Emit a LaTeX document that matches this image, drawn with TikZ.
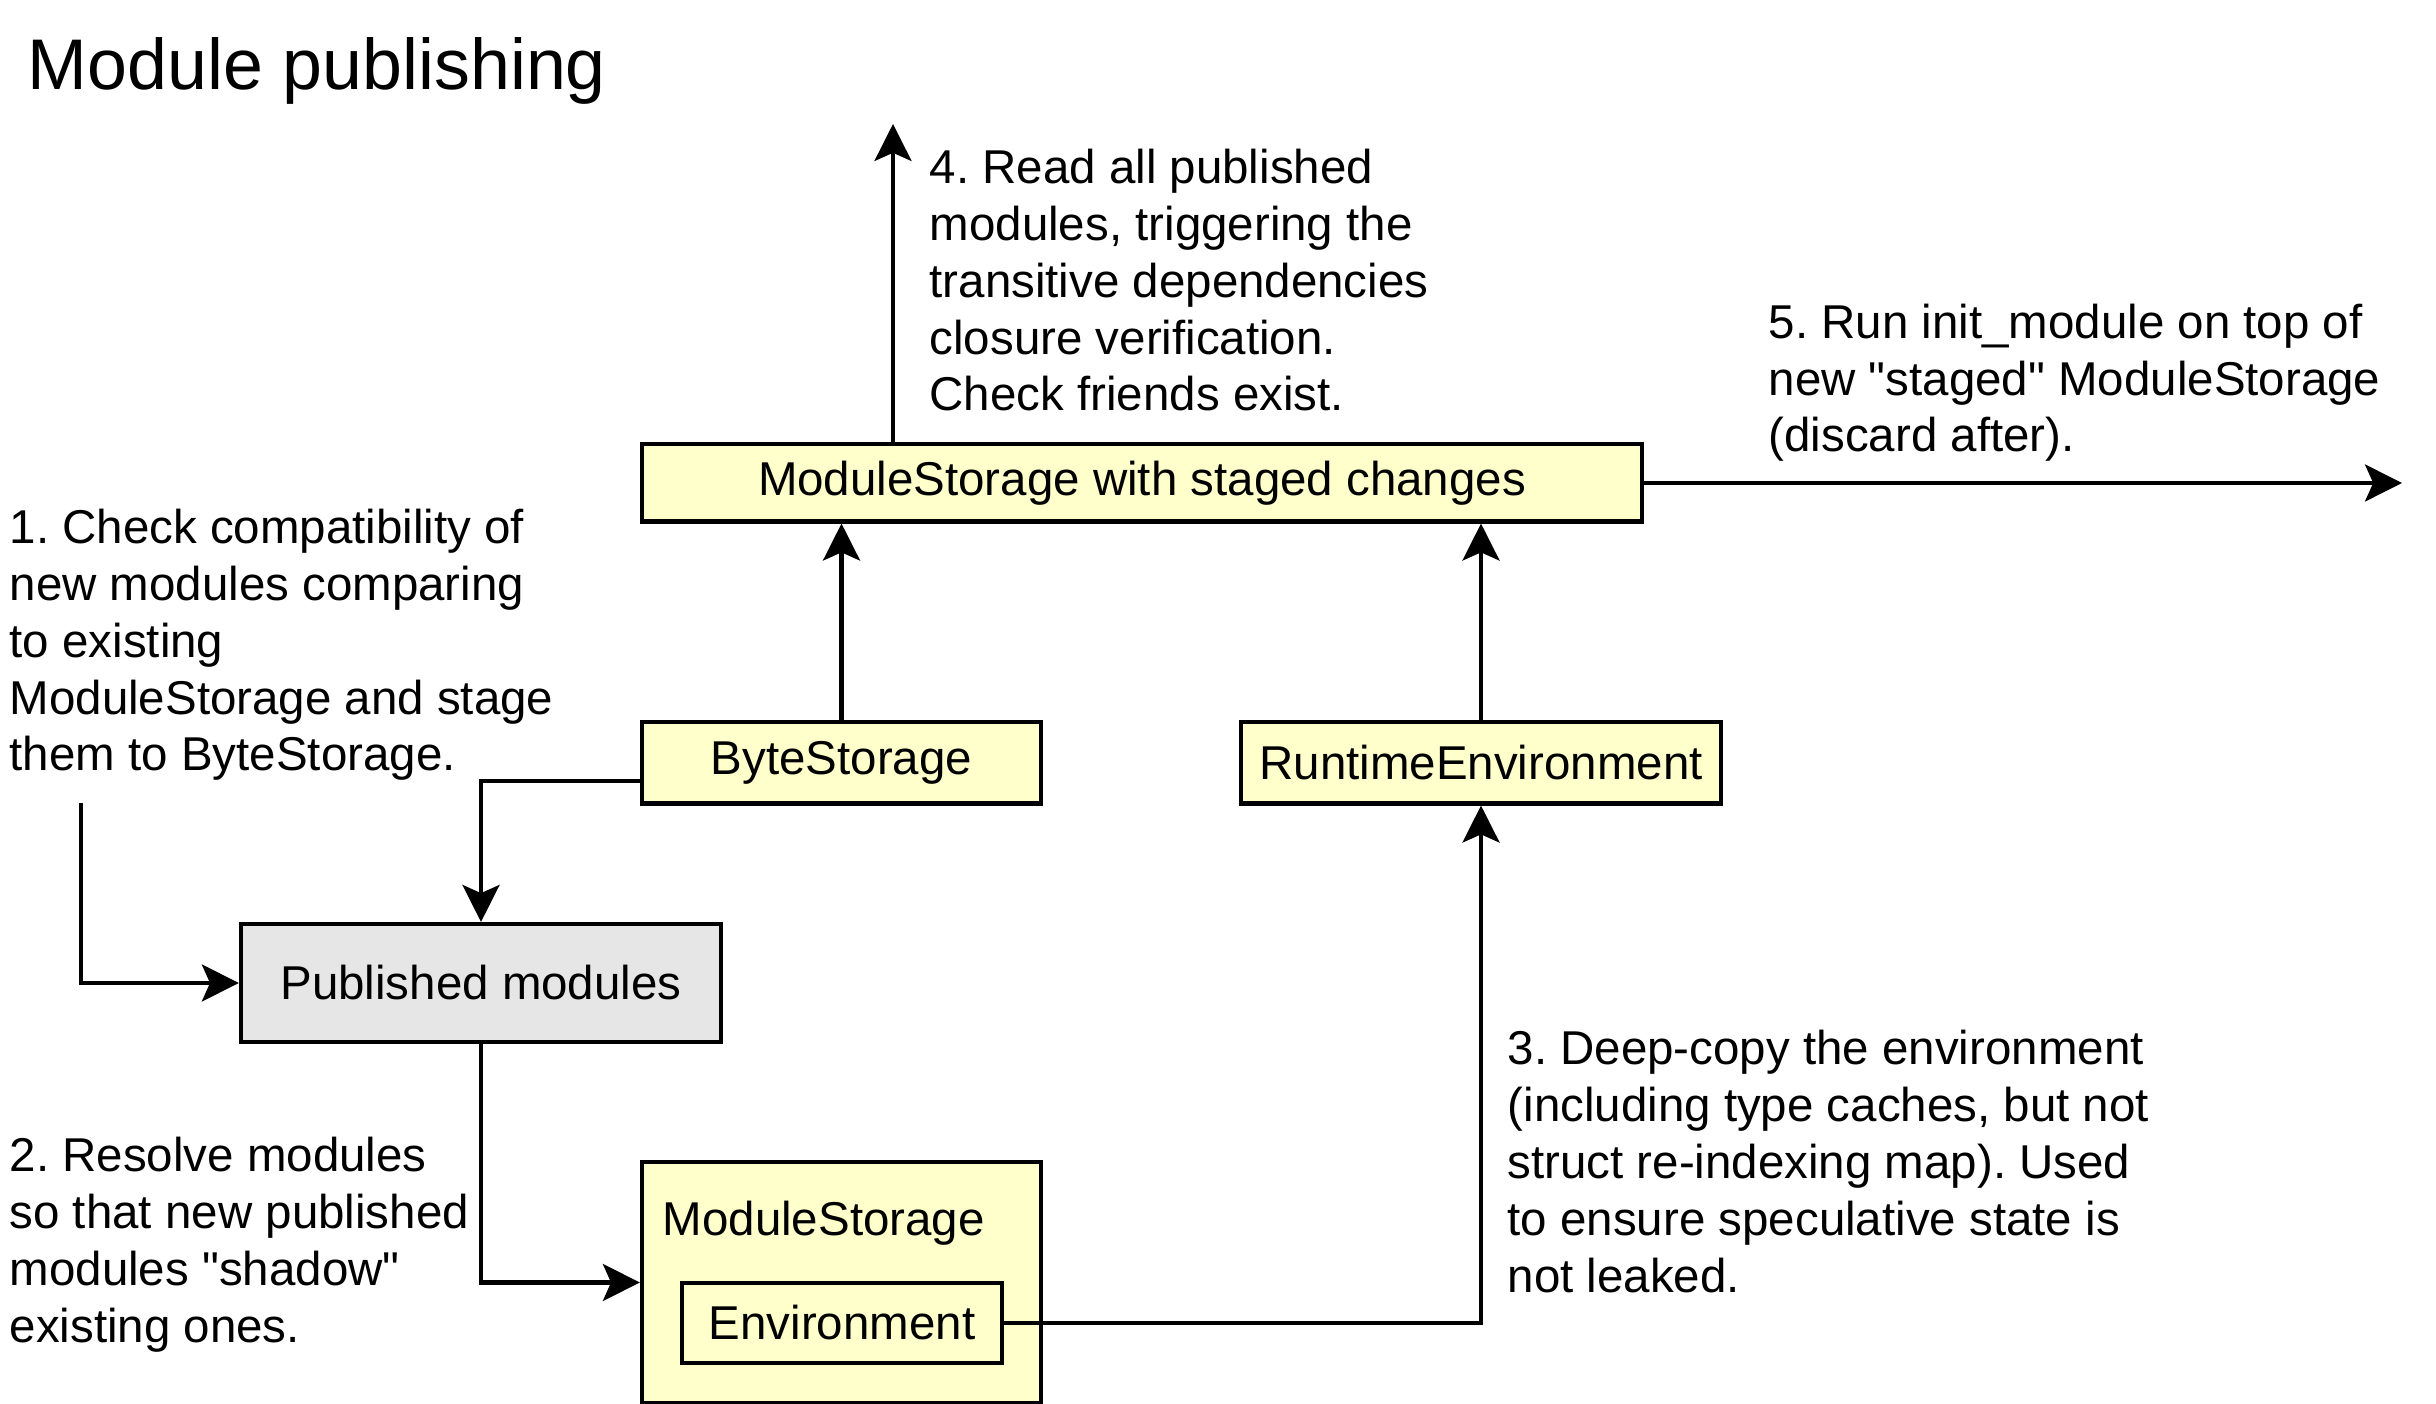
\documentclass[tikz,border=0pt]{standalone}
\usepackage{fontspec}
\setmainfont{Liberation Sans}
\usetikzlibrary{arrows.meta}
\frenchspacing

\definecolor{noteyellow}{HTML}{FFFFCC}
\definecolor{pubgray}{HTML}{E6E6E6}

\tikzset{
  box/.style={draw, line width=1.15pt, fill=noteyellow, inner sep=0pt},
  note/.style={align=left, anchor=base west, inner sep=0pt},
  conn/.style={-{Stealth[length=10.5pt, width=10.5pt, inset=2.3pt]}, line width=1.2pt},
}

\begin{document}
\begin{tikzpicture}[x=0.01cm, y=-0.01cm, font=\fontsize{13.5pt}{16.2pt}\selectfont]
\useasboundingbox (0,0) rectangle (2436,1404);
\node[note, font=\fontsize{20.4pt}{24pt}\selectfont] (title) at (27,90) {Module publishing};

% boxes
\node[box, minimum width=10cm, minimum height=0.77cm] (staged) at (1142,483) {ModuleStorage with staged changes};
\node[box, minimum width=3.99cm, minimum height=0.81cm] (byte) at (841.5,763) {ByteStorage};
\node[box, minimum width=4.8cm, minimum height=0.81cm] (runtime) at (1481,763) {RuntimeEnvironment};
\node[box, fill=pubgray, minimum width=4.8cm, minimum height=1.18cm] (published) at (481,983) {Published modules};
\node[box, minimum width=3.99cm, minimum height=2.41cm] (modstore) at (841.5,1282.5) {};
\node[note] (modlabel) at (662,1235) {ModuleStorage};
\node[box, minimum width=3.2cm, minimum height=0.8cm] (env) at (842,1323) {Environment};

% notes (anchored at the baseline of their last line)
\node[note] (note1) at (9,771) {1. Check compatibility of\\new modules comparing\\to existing\\ModuleStorage and stage\\them to ByteStorage.};
\node[note] (note2) at (9,1342) {2. Resolve modules\\so that new published\\modules \textquotedbl shadow\textquotedbl\\existing ones.};
\node[note] (note3) at (1507,1292) {3. Deep-copy the environment\\(including type caches, but not\\struct re-indexing map). Used\\to ensure speculative state is\\not leaked.};
\node[note] (note4) at (929,411) {4. Read all published\\modules, triggering the\\transitive dependencies\\closure verification.\\Check friends exist.};
\node[note] (note5) at (1768,452) {5. Run init\_module on top of\\new \textquotedbl staged\textquotedbl\ ModuleStorage\\(discard after).};

% connectors
\coordinate (start1) at (81,803);
\coordinate (up) at (893,124);
\coordinate (out) at (2402,483);
\draw[conn] (start1) |- (published.west);
\draw[conn] ([yshift=-0.18cm]byte.west) -| (published.north);
\draw[conn] (published.south) |- (modstore.west);
\draw[conn] (env.east) -| (runtime.south);
\draw[conn] (byte.north) -- (byte.north |- staged.south);
\draw[conn] (runtime.north) -- (runtime.north |- staged.south);
\draw[conn] (staged.north -| up) -- (up);
\draw[conn] (staged.east) -- (out);
\end{tikzpicture}
\end{document}
